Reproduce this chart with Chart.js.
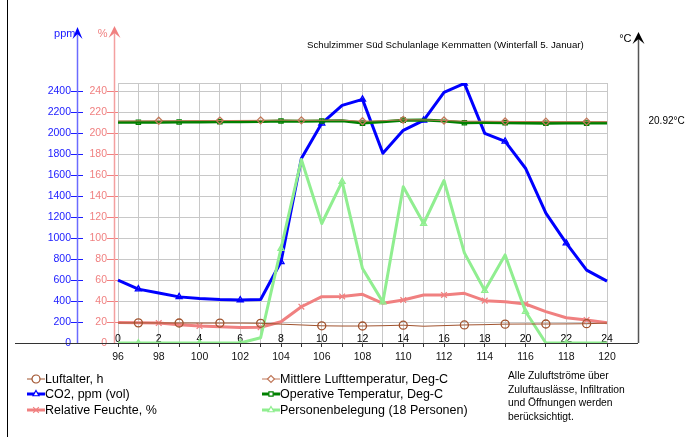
<!DOCTYPE html>
<html>
<head>
<meta charset="utf-8">
<title>Schulzimmer Süd</title>
<script src="https://cdn.jsdelivr.net/npm/chart.js@4.4.0/dist/chart.umd.min.js"></script>
<style>
  html, body { margin: 0; padding: 0; background: #fff; }
  #wrap { position: relative; width: 691px; height: 437px; font-family: Arial, "Liberation Sans", sans-serif; color: #000; }
  #frame { position: absolute; left: 7px; top: 0; width: 1px; height: 437px; background: #000; }
  #title { position: absolute; left: 307px; top: 39px; font-size: 9.7px; white-space: nowrap; }
  #legend { position: absolute; left: 27px; top: 371px; display: grid; grid-template-columns: 235px auto; grid-auto-rows: 15.5px; font-size: 12.5px; }
  .item { display: flex; align-items: center; white-space: nowrap; }
  .item canvas { width: 18px; height: 10px; }
  #note { position: absolute; left: 508px; top: 369px; font-size: 10.3px; line-height: 13.7px; }
</style>
</head>
<body>
<div id="wrap">
  <canvas id="chart" width="691" height="437"></canvas>
  <div id="frame"></div>
  <div id="title">Schulzimmer Süd Schulanlage Kemmatten (Winterfall 5. Januar)</div>
  <div id="legend"></div>
  <div id="note">Alle Zuluftströme über<br>Zuluftauslässe, Infiltration<br>und Öffnungen werden<br>berücksichtigt.</div>
</div>
<script>
// hours of the day, and the same hours counted from the start of the simulation
const hours = [0, 1, 2, 3, 4, 5, 6, 7, 8, 9, 10, 11, 12, 13, 14, 15, 16, 17, 18, 19, 20, 21, 22, 23, 24];
const simHours = [96, 97, 98, 99, 100, 101, 102, 103, 104, 105, 106, 107, 108, 109, 110, 111, 112, 113, 114, 115, 116, 117, 118, 119, 120];

// values
const luftalter = [1.91, 1.92, 1.91, 1.91, 1.9, 1.9, 1.9, 1.88, 1.8, 1.72, 1.64, 1.62, 1.62, 1.65, 1.7, 1.6, 1.66, 1.72, 1.75, 1.8, 1.81, 1.81, 1.82, 1.84, 1.9];
const mittlereTemp = [20.92, 20.93, 20.94, 20.95, 20.96, 20.96, 20.97, 20.98, 21.0, 20.98, 20.99, 21.0, 20.9, 20.95, 21.03, 21.02, 20.97, 20.9, 20.9, 20.88, 20.87, 20.86, 20.86, 20.86, 20.86];
const co2 = [600, 514, 476, 440, 425, 415, 410, 415, 775, 1760, 2095, 2267, 2324, 1810, 2029, 2124, 2390, 2476, 2000, 1924, 1667, 1238, 952, 695, 590];
const operativeTemp = [20.8, 20.8, 20.81, 20.82, 20.83, 20.84, 20.85, 20.87, 20.92, 20.9, 20.92, 20.95, 20.72, 20.85, 21.0, 21.01, 20.92, 20.76, 20.78, 20.76, 20.74, 20.7, 20.72, 20.72, 20.72];
const relFeuchte = [19.5, 19.3, 19, 17.5, 16.2, 15.5, 14.8, 15, 20.3, 34.6, 44.2, 44.4, 46.4, 37.9, 41, 45.8, 45.8, 47.4, 40.4, 39.4, 37.2, 29.9, 24.1, 22, 19.4];
const personen = [0, 0, 0, 0, 0, 0, 0, 0.5, 9.0, 17.5, 11.4, 15.4, 7.1, 3.9, 14.9, 11.4, 15.5, 8.6, 5.0, 8.4, 3.0, 0, 0, 0, 0];
const tempLabel = 20.92;

// where the series symbols sit (hour index)
const luftMarks = [1, 3, 5, 7, 10, 12, 14, 17, 19, 21, 23];
const mittMarks = [2, 5, 7, 9, 12, 14, 16, 19, 21, 23];
const co2Marks = [1, 3, 6, 8, 10, 12, 15, 17, 19, 22];
const opMarks = [1, 3, 5, 8, 10, 12, 14, 17, 19, 21, 23];
const rhMarks = [2, 4, 7, 9, 11, 14, 16, 18, 20, 23];
const persMarks = [1, 4, 6, 8, 11, 13, 15, 18, 20, 22];

const ppmColor = '#1a1aff';
const pctColor = '#f08080';
const gridColor = '#c8c8c8';
const tickFont = { family: 'Arial, "Liberation Sans", sans-serif', size: 10.5 };

function lineSet(label, data, axis, color, width, style, radius, marks, order) {
    return {
        label: label,
        data: data,
        yAxisID: axis,
        borderColor: color,
        backgroundColor: color,
        borderWidth: width,
        borderJoinStyle: 'round',
        tension: 0,
        pointStyle: style,
        pointRadius: (c) => marks.includes(c.dataIndex) ? radius : 0,
        pointHoverRadius: 0,
        pointBorderColor: color,
        pointBackgroundColor: 'transparent',
        pointBorderWidth: 1.3,
        legendRadius: radius,
        order: order
    };
}

function drawArrowAxis(ctx, x, tipY, bottomY, lineColor, headColor, half) {
    ctx.strokeStyle = lineColor;
    ctx.lineWidth = 1.5;
    ctx.beginPath();
    ctx.moveTo(x, bottomY);
    ctx.lineTo(x, tipY + 4);
    ctx.stroke();
    ctx.fillStyle = headColor;
    ctx.beginPath();
    ctx.moveTo(x, tipY);
    ctx.lineTo(x + half, tipY + 12);
    ctx.lineTo(x, tipY + 7);
    ctx.lineTo(x - half, tipY + 12);
    ctx.closePath();
    ctx.fill();
}

const axisDecor = {
    id: 'axisDecor',
    beforeDatasetsDraw(chart) {
        const { ctx, chartArea: a } = chart;
        ctx.save();
        ctx.strokeStyle = gridColor;
        ctx.lineWidth = 1;
        ctx.beginPath();
        ctx.moveTo(a.left, Math.round(a.top) + 0.5);
        ctx.lineTo(a.right, Math.round(a.top) + 0.5);
        ctx.stroke();
        ctx.restore();
    },
    afterDatasetsDraw(chart) {
        const { ctx, chartArea: a } = chart;
        ctx.save();
        ctx.strokeStyle = '#333';
        ctx.lineWidth = 1.2;
        ctx.beginPath();
        ctx.moveTo(15, Math.round(a.bottom) + 0.5);
        ctx.lineTo(a.right + 31, Math.round(a.bottom) + 0.5);
        ctx.stroke();
        ctx.restore();
    },
    afterDraw(chart) {
        const { ctx, chartArea: a, scales } = chart;
        const ppmX = Math.round(scales.yPpm.right - 6) + 0.5;
        const pctX = Math.round(scales.yPct.right - 4) + 0.5;
        const tX = Math.round(a.right + 31) + 0.5;
        ctx.save();
        drawArrowAxis(ctx, ppmX, 27, a.bottom, '#6b6bff', '#0000ff', 5);
        drawArrowAxis(ctx, pctX, 26, a.bottom, '#f4a0a0', '#f08080', 6);
        drawArrowAxis(ctx, tX, 32, a.bottom, '#555', '#000', 6);

        ctx.font = '11px Arial, "Liberation Sans", sans-serif';
        ctx.textAlign = 'right';
        ctx.textBaseline = 'middle';
        ctx.fillStyle = ppmColor;
        ctx.fillText('ppm', ppmX - 2, 34);
        ctx.fillStyle = pctColor;
        ctx.fillText('%', pctX - 7, 34);
        ctx.fillStyle = '#000';
        ctx.fillText('°C', tX - 7, 39);

        ctx.font = '10px Arial, "Liberation Sans", sans-serif';
        ctx.textAlign = 'left';
        ctx.fillText(tempLabel.toFixed(2) + '°C', tX + 10, scales.yC.getPixelForValue(tempLabel));
        ctx.restore();
    }
};

function buildLegend(chart) {
    const box = document.getElementById('legend');
    chart.data.datasets.forEach(ds => {
        const item = document.createElement('div');
        item.className = 'item';
        const c = document.createElement('canvas');
        c.width = 18;
        c.height = 10;
        const g = c.getContext('2d');
        g.strokeStyle = ds.borderColor;
        g.lineWidth = ds.borderWidth;
        g.beginPath();
        g.moveTo(0, 5);
        g.lineTo(18, 5);
        g.stroke();
        g.strokeStyle = ds.pointBorderColor;
        g.fillStyle = '#fff';
        g.lineWidth = 1.2;
        if (Chart.helpers && Chart.helpers.drawPoint) {
            Chart.helpers.drawPoint(g, { pointStyle: ds.pointStyle, radius: ds.legendRadius, rotation: 0, borderWidth: 1.2 }, 9, 5);
        }
        const span = document.createElement('span');
        span.textContent = ds.label;
        item.append(c, span);
        box.appendChild(item);
    });
}

const chart = new Chart(document.getElementById('chart'), {
    type: 'line',
    data: {
        labels: hours,
        datasets: [
            lineSet('Luftalter, h', luftalter, 'yH', '#a0522d', 1, 'circle', 4, luftMarks, 1),
            lineSet('Mittlere Lufttemperatur, Deg-C', mittlereTemp, 'yC', '#c0785a', 1, 'rectRot', 3.5, mittMarks, 2),
            lineSet('CO2, ppm (vol)', co2, 'yPpm', '#0000ff', 3, 'triangle', 3.5, co2Marks, 5),
            lineSet('Operative Temperatur, Deg-C', operativeTemp, 'yC', '#008000', 3, 'rect', 3, opMarks, 3),
            lineSet('Relative Feuchte, %', relFeuchte, 'yPct', pctColor, 3, 'crossRot', 4, rhMarks, 6),
            lineSet('Personenbelegung (18 Personen)', personen, 'yH', '#90ee90', 3, 'triangle', 3.5, persMarks, 4)
        ]
    },
    options: {
        responsive: false,
        animation: false,
        events: [],
        layout: { padding: { left: 0, right: 84, top: 83, bottom: 72 } },
        plugins: {
            legend: { display: false },
            tooltip: { enabled: false },
            title: { display: false }
        },
        scales: {
            // hour-of-day labels sitting just inside the plot, on the zero line
            xIn: {
                type: 'category',
                axis: 'x',
                position: { yPpm: 0 },
                grid: { display: false, drawTicks: false },
                border: { display: false },
                ticks: {
                    autoSkip: false,
                    maxRotation: 0,
                    padding: -9.8,
                    color: '#000',
                    font: tickFont,
                    callback: (v, i) => i % 2 === 0 ? String(hours[i]) : ''
                }
            },
            x: {
                type: 'category',
                position: 'bottom',
                grid: { color: gridColor, tickColor: '#333', tickLength: 4 },
                border: { display: false },
                ticks: {
                    autoSkip: false,
                    maxRotation: 0,
                    padding: 4,
                    color: '#111',
                    font: tickFont,
                    callback: (v, i) => i % 2 === 0 ? String(simHours[i]) : ''
                },
                afterFit: (s) => { s.height = 22; }
            },
            yPpm: {
                position: 'left',
                weight: 2,
                min: 0,
                max: 2480,
                grid: { color: gridColor, tickColor: ppmColor, tickLength: 12 },
                border: { display: false },
                ticks: { stepSize: 200, includeBounds: false, padding: 0, color: ppmColor, font: tickFont, callback: (v) => String(v) },
                afterFit: (s) => { s.width = 83; }
            },
            yPct: {
                position: 'left',
                weight: 1,
                min: 0,
                max: 248,
                grid: { drawOnChartArea: false, tickColor: pctColor, tickLength: 11 },
                border: { display: false },
                ticks: { stepSize: 20, includeBounds: false, padding: 0, color: pctColor, font: tickFont, callback: (v) => String(v) },
                afterFit: (s) => { s.width = 35; }
            },
            yC: { display: false, min: 0, max: 24.5 },
            yH: { display: false, min: 0, max: 24.8 }
        }
    },
    plugins: [axisDecor]
});

buildLegend(chart);
</script>
</body>
</html>
